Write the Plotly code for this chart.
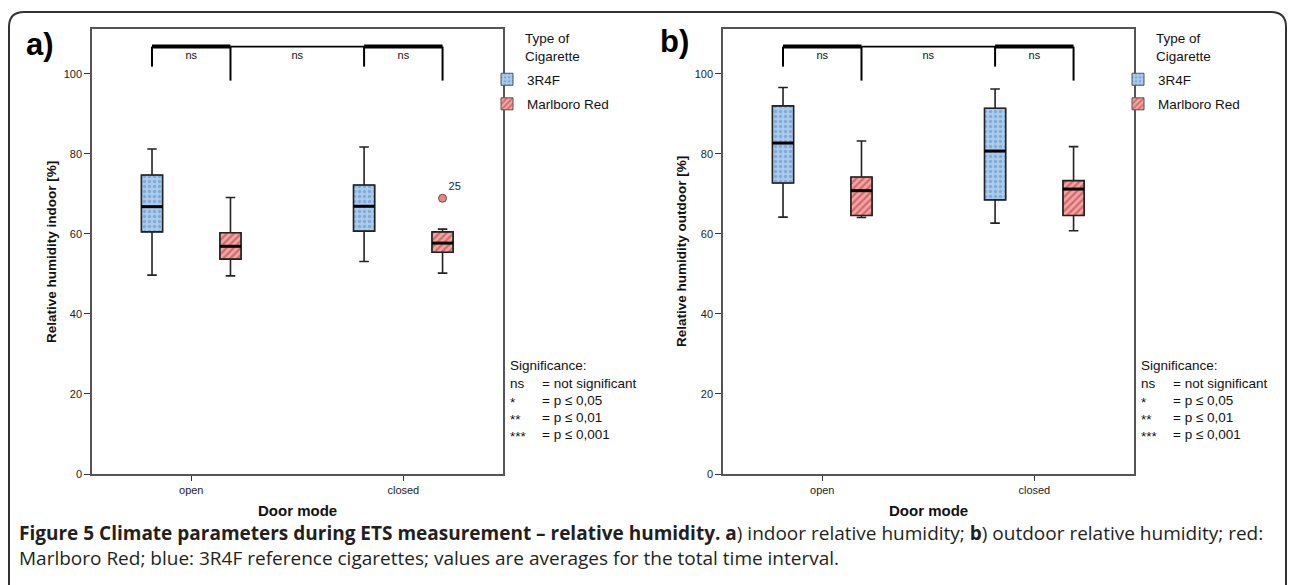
import plotly.graph_objects as go

W, H = 1290, 585

# ---------------- data ----------------
door_modes = ["open", "closed"]
cig_types = ["3R4F", "Marlboro Red"]

# five-number summaries per door mode: [lower whisker, Q1, median, Q3, upper whisker]
indoor_3r4f = [[49.7, 60.5, 66.8, 74.7, 81.2], [53.1, 60.7, 66.9, 72.2, 81.7]]
indoor_marlboro = [[49.5, 53.7, 56.9, 60.3, 69.1], [50.2, 55.4, 57.7, 60.5, 61.2]]
outdoor_3r4f = [[64.2, 72.7, 82.7, 92.0, 96.6], [62.7, 68.5, 80.7, 91.4, 96.2]]
outdoor_marlboro = [[64.1, 64.6, 70.8, 74.2, 83.2], [60.8, 64.6, 71.2, 73.3, 81.8]]

# outliers: (door mode index, value, case label)
indoor_marlboro_outliers = [(1, 68.9, "25")]
outdoor_marlboro_outliers = []

sig_labels = ["ns", "ns", "ns"]
sig_legend_keys = ["ns", "*", "**", "***"]
sig_legend_vals = ["= not significant", "= p \u2264 0,05", "= p \u2264 0,01", "= p \u2264 0,001"]

y_titles = ["Relative humidity indoor [%]", "Relative humidity outdoor [%]"]
x_title = "Door mode"
y_ticks = [0, 20, 40, 60, 80, 100]

caption_line1 = ("<b>Figure 5 Climate parameters during ETS measurement \u2013 relative humidity. a</b>) "
                 "indoor relative humidity; <b>b</b>) outdoor relative humidity; red:")
caption_line2 = "Marlboro Red; blue: 3R4F reference cigarettes; values are averages for the total time interval."

# ---------------- style ----------------
FONT = "Liberation Sans"
OFF = 0.185      # offset of a cigarette type from its door-mode tick
BW = 0.1         # box width (data units)
XR = [-0.468, 1.470]
YR = [0, 111.2]
BLUE_BG, BLUE_FG = "#a9cbed", "#5f88bb"
RED_BG, RED_FG = "#f5a3a3", "#a83434"

def px_x(p):
    return p / W

def px_y(p):
    return 1 - p / H

panels = [
    dict(series=[indoor_3r4f, indoor_marlboro], outl=indoor_marlboro_outliers,
         x0=92, x1=503, xa="x", ya="y", legend="legend", label="a)", lab_x=24, lab_y=45,
         ytitle_x=51),
    dict(series=[outdoor_3r4f, outdoor_marlboro], outl=outdoor_marlboro_outliers,
         x0=723, x1=1134, xa="x2", ya="y2", legend="legend2", label="b)", lab_x=658, lab_y=42,
         ytitle_x=681),
]

fig = go.Figure()
annotations = []

for pi, P in enumerate(panels):
    for ti, (stats, name) in enumerate(zip(P["series"], cig_types)):
        pos = [d + (-OFF if ti == 0 else OFF) for d in range(len(door_modes))]
        lo = [s[0] for s in stats]
        q1 = [s[1] for s in stats]
        med = [s[2] for s in stats]
        q3 = [s[3] for s in stats]
        hi = [s[4] for s in stats]
        bg, fg = (BLUE_BG, BLUE_FG) if ti == 0 else (RED_BG, RED_FG)
        pattern = (dict(shape=".", fgcolor=fg, bgcolor=bg, size=5, solidity=0.35) if ti == 0
                   else dict(shape="/", fgcolor=fg, bgcolor=bg, size=5, solidity=0.45))
        # patterned box fill (IQR)
        fig.add_trace(go.Bar(
            x=pos, y=[b - a for a, b in zip(q1, q3)], base=q1, width=BW,
            name=name, legend=P["legend"], legendgroup=f"{pi}{ti}",
            marker=dict(color=bg, pattern=pattern, line=dict(color="#555", width=1)),
            xaxis=P["xa"], yaxis=P["ya"], hoverinfo="skip"))
        # box outline + whiskers
        fig.add_trace(go.Box(
            x=pos, q1=q1, median=med, q3=q3, lowerfence=lo, upperfence=hi,
            width=BW, whiskerwidth=0.45, fillcolor="rgba(0,0,0,0)",
            line=dict(color="#222", width=1.6), boxpoints=False, showlegend=False,
            xaxis=P["xa"], yaxis=P["ya"], hoverinfo="skip"))
        # thick median
        mx, my = [], []
        for p, m in zip(pos, med):
            mx += [p - BW / 2, p + BW / 2, None]
            my += [m, m, None]
        fig.add_trace(go.Scatter(x=mx, y=my, mode="lines", line=dict(color="#000", width=3),
                                 showlegend=False, xaxis=P["xa"], yaxis=P["ya"], hoverinfo="skip"))
        if ti == 1 and P["outl"]:
            ox = [d + OFF for d, v, l in P["outl"]]
            oy = [v for d, v, l in P["outl"]]
            ot = [l for d, v, l in P["outl"]]
            fig.add_trace(go.Scatter(
                x=ox, y=oy, mode="markers+text", text=ot, textposition="top right",
                textfont=dict(family=FONT, size=11, color="#222"),
                marker=dict(size=8, color="#e98585", line=dict(color="#555", width=1)),
                showlegend=False, xaxis=P["xa"], yaxis=P["ya"], hoverinfo="skip"))

    # significance brackets
    b_top, b_blue, b_red = 106.8, 101.8, 98.3
    p3 = [d - OFF for d in range(len(door_modes))]
    pm = [d + OFF for d in range(len(door_modes))]
    thick_x, thick_y = [], []
    for a, b in zip(p3, pm):
        thick_x += [a, b, None]
        thick_y += [b_top, b_top, None]
    fig.add_trace(go.Scatter(x=thick_x, y=thick_y, mode="lines", line=dict(color="#000", width=4),
                             showlegend=False, xaxis=P["xa"], yaxis=P["ya"], hoverinfo="skip"))
    fig.add_trace(go.Scatter(x=[pm[0], p3[1]], y=[b_top, b_top], mode="lines",
                             line=dict(color="#000", width=1.6),
                             showlegend=False, xaxis=P["xa"], yaxis=P["ya"], hoverinfo="skip"))
    vx, vy = [], []
    for a in p3:
        vx += [a, a, None]
        vy += [b_top, b_blue, None]
    for b in pm:
        vx += [b, b, None]
        vy += [b_top, b_red, None]
    fig.add_trace(go.Scatter(x=vx, y=vy, mode="lines", line=dict(color="#000", width=2),
                             showlegend=False, xaxis=P["xa"], yaxis=P["ya"], hoverinfo="skip"))
    mids = [(p3[0] + pm[0]) / 2, (pm[0] + p3[1]) / 2, (p3[1] + pm[1]) / 2]
    fig.add_trace(go.Scatter(x=mids, y=[104.4] * 3, mode="text", text=sig_labels,
                             textfont=dict(family=FONT, size=11, color="#111"),
                             showlegend=False, xaxis=P["xa"], yaxis=P["ya"], hoverinfo="skip"))

    # texts around the panel
    annotations.append(dict(text=f"<b>{P['label']}</b>", x=px_x(P["lab_x"]), y=px_y(P["lab_y"]),
                            xref="paper", yref="paper", xanchor="left", yanchor="middle",
                            showarrow=False, font=dict(family=FONT, size=31, color="#000")))
    annotations.append(dict(text=f"<b>{y_titles[pi]}</b>", x=px_x(P["ytitle_x"]), y=px_y(252),
                            xref="paper", yref="paper", xanchor="center", yanchor="middle",
                            textangle=-90, showarrow=False,
                            font=dict(family=FONT, size=13.5, color="#111")))
    annotations.append(dict(text=f"<b>{x_title}</b>", x=px_x((P["x0"] + P["x1"]) / 2), y=px_y(510),
                            xref="paper", yref="paper", xanchor="center", yanchor="middle",
                            showarrow=False, font=dict(family=FONT, size=15, color="#111")))
    annotations.append(dict(text="Type of<br>Cigarette", x=px_x(P["x1"] + 20), y=px_y(47),
                            xref="paper", yref="paper", xanchor="left", yanchor="middle",
                            align="left", showarrow=False,
                            font=dict(family=FONT, size=13.5, color="#111")))
    annotations.append(dict(text="Significance:", x=px_x(P["x1"] + 5), y=px_y(365),
                            xref="paper", yref="paper", xanchor="left", yanchor="middle",
                            showarrow=False, font=dict(family=FONT, size=13.5, color="#111")))
    for k, (key, val) in enumerate(zip(sig_legend_keys, sig_legend_vals)):
        yy = 383 + k * 17
        annotations.append(dict(text=key, x=px_x(P["x1"] + 5), y=px_y(yy + (2 if key.startswith("*") else 0)),
                                xref="paper", yref="paper", xanchor="left", yanchor="middle",
                                showarrow=False, font=dict(family=FONT, size=13.5, color="#111")))
        annotations.append(dict(text=val, x=px_x(P["x1"] + 37), y=px_y(yy),
                                xref="paper", yref="paper", xanchor="left", yanchor="middle",
                                showarrow=False, font=dict(family=FONT, size=13.5, color="#111")))

# caption
CAP_FONT = "Open Sans"
annotations.append(dict(
    text=caption_line1 + "<br>" + caption_line2,
    x=px_x(17), y=px_y(545.5), xref="paper", yref="paper", xanchor="left", yanchor="middle",
    align="left", showarrow=False, font=dict(family=CAP_FONT, size=19, color="#231f20")))

axis_common = dict(showline=True, linecolor="#555", linewidth=1.5, mirror=True,
                   showgrid=False, zeroline=False, ticks="outside", tickcolor="#333",
                   tickfont=dict(family=FONT, size=11, color="#222"))

layout = dict(
    width=W, height=H, margin=dict(l=0, r=0, t=0, b=0, autoexpand=False),
    paper_bgcolor="white", plot_bgcolor="white",
    barmode="overlay", boxmode="overlay",
    annotations=annotations,
    shapes=[dict(type="path", xref="paper", yref="paper",
                 path=(f"M {px_x(9)},-0.02 L {px_x(9)},{px_y(27)} Q {px_x(9)},{px_y(12)} {px_x(24)},{px_y(12)} "
                       f"L {px_x(1271)},{px_y(12)} Q {px_x(1286)},{px_y(12)} {px_x(1286)},{px_y(27)} L {px_x(1286)},-0.02"),
                 line=dict(color="#333", width=2))],
)
for pi, P in enumerate(panels):
    sfx = "" if pi == 0 else "2"
    layout["xaxis" + sfx] = dict(axis_common, domain=[px_x(P["x0"]), px_x(P["x1"])], range=XR,
                                 tickvals=list(range(len(door_modes))), ticktext=door_modes,
                                 ticklen=5, anchor="y" + sfx)
    layout["yaxis" + sfx] = dict(axis_common, domain=[px_y(474), px_y(29)], range=YR,
                                 tickvals=y_ticks, ticklen=6, anchor="x" + sfx)
    layout[P["legend"]] = dict(x=px_x(P["x1"] - 16), y=px_y(64), xanchor="left", yanchor="top",
                               bgcolor="rgba(0,0,0,0)", traceorder="grouped", tracegroupgap=4,
                               font=dict(family=FONT, size=13.5, color="#111"), itemwidth=30)

fig.update_layout(**layout)
fig.write_html("out.html", config={"displayModeBar": False},
               post_script="document.body.style.margin='0';document.body.style.overflow='hidden';")
